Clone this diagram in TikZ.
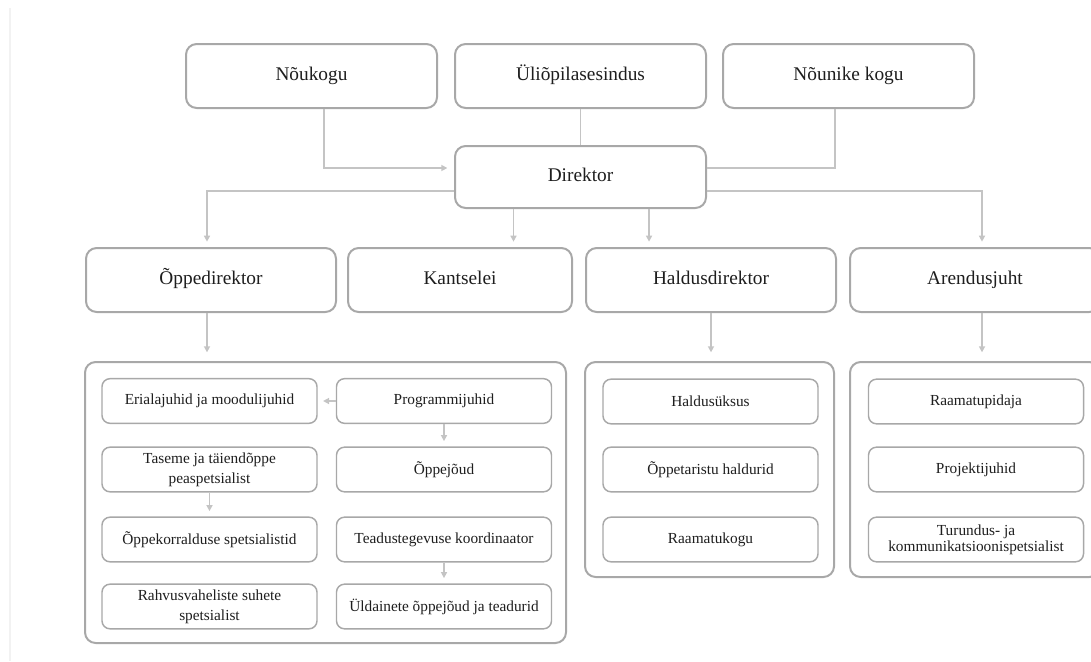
\documentclass[tikz,border=0pt]{standalone}
\usepackage{fontspec}
\setmainfont{Liberation Serif}
\usetikzlibrary{arrows.meta,calc}

\definecolor{boxgray}{HTML}{A8A8A8}
\definecolor{linegray}{HTML}{C4C4C4}
\definecolor{txtgray}{HTML}{1E1E1E}

\begin{document}
\begin{tikzpicture} [ x=0.75pt, y=-0.75pt,
    bigbox/.style={draw=boxgray, line width=1.5pt, rounded corners=8pt, fill=white, inner sep=0pt,
      minimum width=188.25pt, minimum height=48pt, text=txtgray, text height=10pt, text depth=3pt,
      font=\fontsize{14.5}{17}\selectfont},
    grpbox/.style={draw=boxgray, line width=1.5pt, rounded corners=8pt, inner sep=0pt},
    smallbox/.style={draw=boxgray, line width=1.1pt, rounded corners=6pt, fill=white, inner sep=0pt,
      minimum width=161.25pt, minimum height=33.5pt, text=txtgray, align=center,
      font=\fontsize{11.5}{15}\selectfont},
    conn/.style={draw=linegray, line width=1.2pt},
    arr/.style={conn, -{Triangle[length=4.5pt,width=4.5pt]}, shorten >=4pt},
    ]
    \useasboundingbox (0,0) rectangle (1091,661);
    % faint page edge
    \draw[gray!10, line width=1.5pt] (10,8) -- (10,661);

    % top row
    \node[bigbox] (nou) at (311.5,76) {Nõukogu};
    \node[bigbox] (uli) at (580.5,76) {Üliõpilasesindus};
    \node[bigbox] (non) at (848.5,76) {Nõunike kogu};
    \node[bigbox, minimum height=46.5pt] (dir) at (580.5,177) {Direktor};

    % second row
    \node[bigbox, minimum width=187.5pt] (opd) at (211,280) {Õppedirektor};
    \node[bigbox, minimum width=168pt] (kan) at (460,280) {Kantselei};
    \node[bigbox, minimum width=187.5pt] (hal) at (711,280) {Haldusdirektor};
    \node[bigbox, minimum width=187.5pt] (are) at (975,280) {Arendusjuht};

    % groups
    \node[grpbox, minimum width=360.75pt, minimum height=210.75pt] (grpA) at (325.5,502.5) {};
    \node[grpbox, minimum width=186.75pt, minimum height=161.25pt] (grpB) at (709.5,469.5) {};
    \node[grpbox, minimum width=187.5pt, minimum height=161.25pt] (grpC) at (975,469.5) {};

    \node[smallbox] (eri) at (209.5,401) {Erialajuhid ja moodulijuhid};
    \node[smallbox] (prog) at (444,401) {Programmijuhid};
    \node[smallbox] (tas) at (209.5,469.5) {Taseme ja täiendõppe\\peaspetsialist};
    \node[smallbox] (opj) at (444,469.5) {Õppejõud};
    \node[smallbox] (opk) at (209.5,539.5) {Õppekorralduse spetsialistid};
    \node[smallbox] (tea) at (444,539.5) {Teadustegevuse koordinaator};
    \node[smallbox] (rah) at (209.5,606.5) {Rahvusvaheliste suhete\\spetsialist};
    \node[smallbox] (yld) at (444,606.5) {Üldainete õppejõud ja teadurid};

    \node[smallbox] (hue) at (710.5,401.5) {Haldusüksus};
    \node[smallbox] (ota) at (710.5,469.5) {Õppetaristu haldurid};
    \node[smallbox] (rmk) at (710.5,539.5) {Raamatukogu};

    \node[smallbox] (rpd) at (976,401.5) {Raamatupidaja};
    \node[smallbox] (prj) at (976,469.5) {Projektijuhid};
    \node[smallbox, font=\fontsize{11.5}{11.8}\selectfont] (tur) at (976,539.5) {Turundus- ja\\kommunikatsioonispetsialist};

    % into Direktor
    \draw[arr, shorten >=5pt] ($(nou.south)+(12.5,0)$) |- ($(dir.west)+(0,-9)$);
    \draw[conn] (uli.south) -- (dir.north);
    \draw[conn] ($(non.south)+(-13.5,0)$) |- ($(dir.east)+(0,-9)$);

    % out of Direktor
    \draw[arr] ($(dir.west)+(0,14)$) -| ($(opd.north)+(-4,0)$);
    \draw[arr] ([xshift=-50.25pt]dir.south) -- ([xshift=-50.25pt]dir.south |- kan.north);
    \draw[arr] ([xshift=51.4pt]dir.south) -- ([xshift=51.4pt]dir.south |- hal.north);
    \draw[arr] ($(dir.east)+(0,14)$) -| ($(are.north)+(7,0)$);

    % down to the groups
    \draw[arr, shorten >=6.5pt] ([xshift=-3pt]opd.south) -- ([xshift=-3pt]opd.south |- grpA.north);
    \draw[arr, shorten >=6.5pt] (hal.south) -- (hal.south |- grpB.north);
    \draw[arr, shorten >=6.5pt] ([xshift=5.25pt]are.south) -- ([xshift=5.25pt]are.south |- grpC.north);

    % inside Õppedirektor group
    \draw[arr] (prog.west) -- (eri.east);
    \draw[arr] (prog.south) -- (opj.north);
    \draw[arr] (tas.south) -- (opk.north);
    \draw[arr] (tea.south) -- (yld.north);
\end{tikzpicture}
\end{document}
